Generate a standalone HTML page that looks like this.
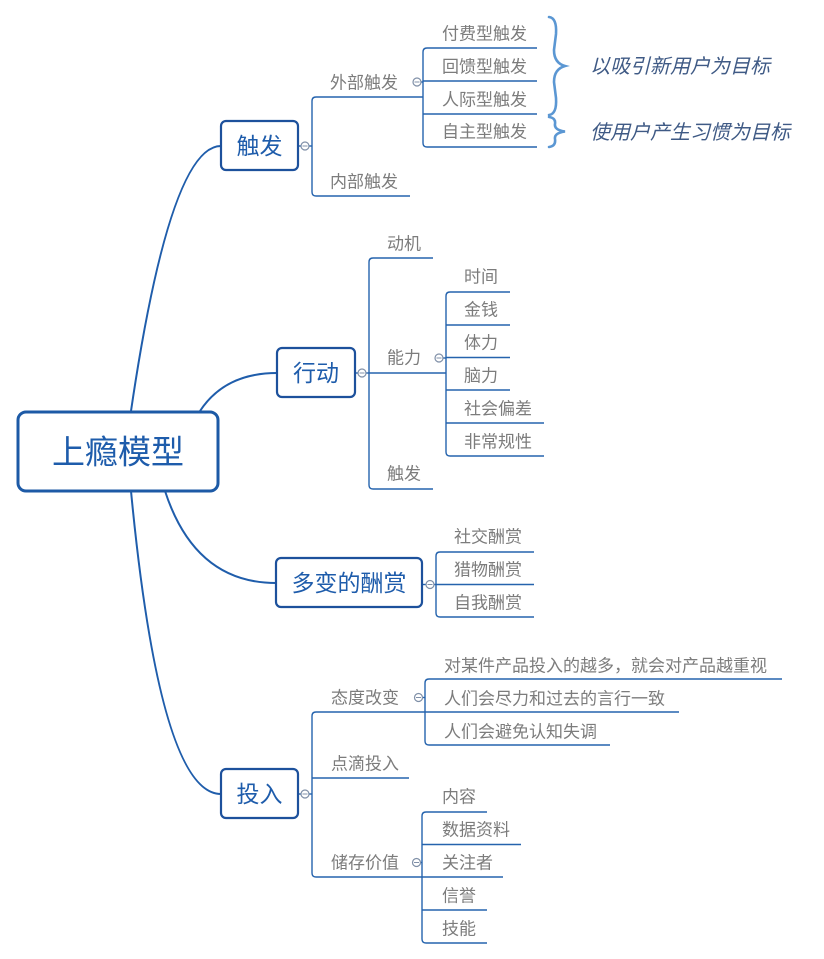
<!DOCTYPE html>
<html><head><meta charset="utf-8"><style>
html,body{margin:0;padding:0;background:#fff;}
svg{display:block;}
text{font-family:"Liberation Sans","Noto Sans CJK SC",sans-serif;}
.g{fill:#7c7c7c;font-size:17px;dominant-baseline:central;transform:translateY(1px);}
.b{fill:#1e5cab;font-size:23px;dominant-baseline:central;text-anchor:middle;}
.i{fill:#3f5a85;font-size:20px;font-style:italic;dominant-baseline:central;}
.ln{fill:none;stroke:#2563ad;stroke-width:1.4;}
.mc{fill:none;stroke:#1f5dab;stroke-width:2;}
.bx{fill:#fff;stroke:#1d519c;stroke-width:2.2;}
.c{fill:#fff;stroke:#8090a8;stroke-width:1.2;}
.br{fill:none;stroke:#5b97d3;stroke-width:2.6;stroke-linecap:round;}
</style></head><body>
<svg width="824" height="959" viewBox="0 0 824 959" xmlns="http://www.w3.org/2000/svg">
<!-- main curves -->
<path class="mc" d="M131,411 Q170,146 221,146"/>
<path class="mc" d="M200,411 Q225,373 277,373"/>
<path class="mc" d="M165,491 Q195,583 276,583"/>
<path class="mc" d="M131,491 Q160,794 221,794"/>

<!-- 触发 section -->
<path class="ln" d="M298,146 H312"/>
<path class="ln" d="M423,97 H316 Q312,97 312,101 V192 Q312,196 316,196 H410"/>
<path class="ln" d="M413,82 H423"/>
<path class="ln" d="M537,48 H427 Q423,48 423,52 V143 Q423,147 427,147 H537"/>
<path class="ln" d="M423,81 H537 M423,114 H537"/>
<circle class="c" cx="305" cy="146" r="4"/><path d="M302.5,146 H307.5" stroke="#8090a8" stroke-width="1"/>
<circle class="c" cx="417" cy="82" r="4"/><path d="M414.5,82 H419.5" stroke="#8090a8" stroke-width="1"/>
<text class="g" x="330" y="82">外部触发</text>
<text class="g" x="330" y="181">内部触发</text>
<text class="g" x="442" y="33">付费型触发</text>
<text class="g" x="442" y="66">回馈型触发</text>
<text class="g" x="442" y="99">人际型触发</text>
<text class="g" x="442" y="131">自主型触发</text>
<path class="br" d="M549,17 Q557,18 556,34 L554,50 Q554,63 565,66 Q554,69 554,82 L556,98 Q557,114 549,115"/>
<path class="br" d="M549,117 Q556,118 555,124 Q554,130 565,131.5 Q554,133 555,139 Q556,146 549,147"/>
<text class="i" x="590" y="67">以吸引新用户为目标</text>
<text class="i" x="590" y="133">使用户产生习惯为目标</text>
<rect class="bx" x="221" y="121" width="77" height="49" rx="5"/>
<text class="b" x="259.5" y="146">触发</text>

<!-- 行动 section -->
<path class="ln" d="M356,373 H369"/>
<path class="ln" d="M433,258 H373 Q369,258 369,262 V485 Q369,489 373,489 H433"/>
<path class="ln" d="M369,373 H446"/>
<path class="ln" d="M443,358 H446"/>
<path class="ln" d="M510,292 H450 Q446,292 446,296 V452 Q446,456 450,456 H544"/>
<path class="ln" d="M446,325 H510 M446,357.5 H510 M446,390 H510 M446,423 H544"/>
<circle class="c" cx="362" cy="373" r="4"/><path d="M359.5,373 H364.5" stroke="#8090a8" stroke-width="1"/>
<circle class="c" cx="439" cy="358" r="4"/><path d="M436.5,358 H441.5" stroke="#8090a8" stroke-width="1"/>
<text class="g" x="387" y="243">动机</text>
<text class="g" x="387" y="357">能力</text>
<text class="g" x="387" y="473">触发</text>
<text class="g" x="464" y="276">时间</text>
<text class="g" x="464" y="309">金钱</text>
<text class="g" x="464" y="342">体力</text>
<text class="g" x="464" y="375">脑力</text>
<text class="g" x="464" y="408">社会偏差</text>
<text class="g" x="464" y="441">非常规性</text>
<rect class="bx" x="277" y="348" width="78" height="49" rx="5"/>
<text class="b" x="316" y="373">行动</text>

<!-- 多变的酬赏 -->
<path class="ln" d="M422,584.5 H436"/>
<path class="ln" d="M534,552 H440 Q436,552 436,556 V613 Q436,617 440,617 H534"/>
<path class="ln" d="M436,584.5 H534"/>
<circle class="c" cx="430" cy="584.5" r="4"/><path d="M427.5,584.5 H432.5" stroke="#8090a8" stroke-width="1"/>
<text class="g" x="454" y="536">社交酬赏</text>
<text class="g" x="454" y="569">猎物酬赏</text>
<text class="g" x="454" y="602">自我酬赏</text>
<rect class="bx" x="276" y="558" width="146" height="49" rx="5"/>
<text class="b" x="349" y="583">多变的酬赏</text>

<!-- 投入 -->
<path class="ln" d="M298,794 H312"/>
<path class="ln" d="M679,712 H316 Q312,712 312,716 V873 Q312,877 316,877 H503"/>
<path class="ln" d="M312,778 H409"/>
<path class="ln" d="M422,697.5 H425"/>
<path class="ln" d="M782,679 H429 Q425,679 425,683 V741 Q425,745 429,745 H610"/>
<path class="ln" d="M420,862.5 H422"/>
<path class="ln" d="M487,812 H426 Q422,812 422,816 V939 Q422,943 426,943 H487"/>
<path class="ln" d="M422,844.5 H521 M422,910 H487"/>
<circle class="c" cx="305" cy="794" r="4"/><path d="M302.5,794 H307.5" stroke="#8090a8" stroke-width="1"/>
<circle class="c" cx="418.5" cy="697.5" r="4"/><path d="M416,697.5 H421" stroke="#8090a8" stroke-width="1"/>
<circle class="c" cx="416.5" cy="862.5" r="4"/><path d="M414,862.5 H419" stroke="#8090a8" stroke-width="1"/>
<text class="g" x="331" y="697">态度改变</text>
<text class="g" x="331" y="763">点滴投入</text>
<text class="g" x="331" y="862">储存价值</text>
<text class="g" x="444" y="665">对某件产品投入的越多，就会对产品越重视</text>
<text class="g" x="444" y="698">人们会尽力和过去的言行一致</text>
<text class="g" x="444" y="731">人们会避免认知失调</text>
<text class="g" x="442" y="796">内容</text>
<text class="g" x="442" y="829">数据资料</text>
<text class="g" x="442" y="862">关注者</text>
<text class="g" x="442" y="895">信誉</text>
<text class="g" x="442" y="928">技能</text>
<rect class="bx" x="221" y="769" width="77" height="49" rx="5"/>
<text class="b" x="259.5" y="794">投入</text>

<!-- root -->
<rect x="18" y="412" width="200" height="79" rx="8" fill="#fff" stroke="#1d5aa6" stroke-width="3"/>
<text x="118" y="452" fill="#1e5cab" font-size="33" text-anchor="middle" dominant-baseline="central" style="font-family:'Liberation Sans','Noto Sans CJK SC',sans-serif;">上瘾模型</text>
</svg>
</body></html>
